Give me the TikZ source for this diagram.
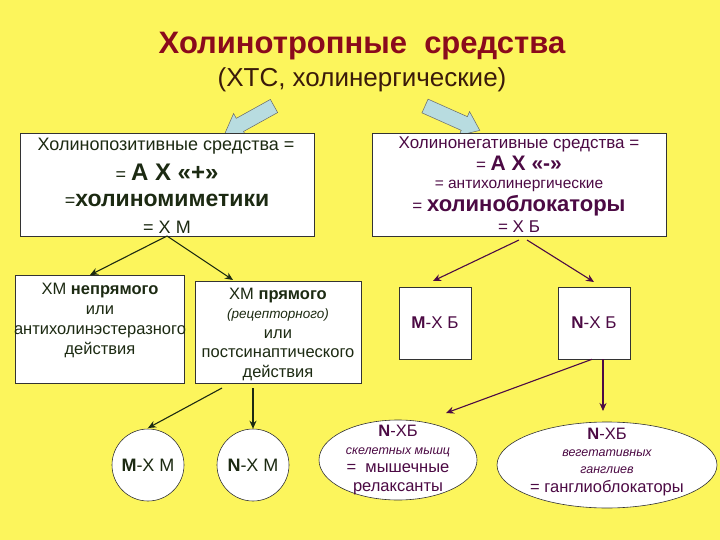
\documentclass[tikz,border=0pt]{standalone}
\usepackage{fontspec}
\setmainfont{Liberation Sans}
\usetikzlibrary{arrows.meta}
\definecolor{bg}{HTML}{FCF55C}
\definecolor{lt}{HTML}{1C2A12}
\definecolor{rt}{HTML}{4C0A44}
\definecolor{ttl}{HTML}{8A0A1C}
\definecolor{sub}{HTML}{3A1A0A}
\definecolor{ba}{HTML}{B8DCE0}
\tikzset{
 box/.style={draw=black!80,fill=white,line width=0.6pt,inner sep=0pt},
 txt/.style={align=center,font=\fontsize{18}{21}\selectfont},
 stxt/.style={align=center,font=\fontsize{16.5}{20}\selectfont},
 la/.style={-{Stealth[length=8pt,width=7pt]},draw=lt,line width=1.1pt},
 ra/.style={-{Stealth[length=8pt,width=7pt]},draw=rt,line width=1.1pt},
}
\newcommand{\blockarrow}[4]{%
 \begin{scope}[shift={(#1,#2)},rotate=#3]
 \filldraw[fill=ba,draw=black!60,line width=0.5pt,x=1pt,y=1pt] (0,-7.5)--(#4-17,-7.5)--(#4-17,-13)--(#4,0)--(#4-17,13)--(#4-17,7.5)--(0,7.5)--cycle;
 \end{scope}}
\begin{document}
\begin{tikzpicture}[x=1pt,y=-1pt]
\fill[bg] (0,0) rectangle (720,540);
\useasboundingbox (0,0) rectangle (720,540);
% title
\node (title) [text=ttl,font=\bfseries\fontsize{31}{34}\selectfont] at (362,46) {Холинотропные\ \ средства};
\node (subt) [text=sub,font=\fontsize{26}{30}\selectfont] at (362,80) {(ХТС, холинергические)};
\blockarrow{274}{106}{209}{56}
\blockarrow{425}{106}{-24}{60}
% big boxes
\draw[box] (20,133) rectangle (314,236);
\coordinate (lb) at (167,236);
\node[text=lt,txt] at (166,146) {Холинопозитивные средства =};
\node[text=lt,txt] at (167,172) {= \textbf{\fontsize{24}{26}\selectfont А Х «+»}};
\node[text=lt,txt] at (167,200) {=\textbf{\fontsize{23}{26}\selectfont холиномиметики}};
\node[text=lt,txt] at (167,227) {= Х М};
\draw[box] (372,133) rectangle (666,236);
\coordinate (rb) at (519,240);
\node[text=rt,txt,font=\fontsize{17}{20}\selectfont] at (519,144) {Холинонегативные средства =};
\node[text=rt,txt,font=\fontsize{17}{20}\selectfont] at (519,163) {= \textbf{\fontsize{21}{23}\selectfont А Х «-»}};
\node[text=rt,txt,font=\fontsize{15.5}{18}\selectfont] at (519,185.5) {= антихолинергические};
\node[text=rt,txt,font=\fontsize{17}{20}\selectfont] at (519,206) {= \textbf{\fontsize{22}{25}\selectfont холиноблокаторы}};
\node[text=rt,txt,font=\fontsize{17}{20}\selectfont] at (519,227) {= Х Б};
% second row
\draw[box] (15,275) rectangle (184,383);
\node (xmn) [text=lt,stxt,font=\fontsize{16.5}{20}\selectfont] at (100,320) {ХМ \textbf{непрямого}\\или\\антихолинэстеразного\\действия};
\coordinate (xmnt) at (90,275);
\draw[box] (195,281) rectangle (361,383);
\node (xmp) [text=lt,stxt,font=\fontsize{16.5}{19.5}\selectfont] at (278,334) {ХМ \textbf{прямого}\\{\itshape\fontsize{13.5}{16}\selectfont(рецепторного)}\\или\\постсинаптического\\действия};
\coordinate (xmpt) at (233,280);
\node (mxb) [box,minimum width=72pt,minimum height=72pt,text=rt,font=\fontsize{17}{20}\selectfont] at (435,323) {\textbf{М}-Х Б};
\node (nxb) [box,minimum width=72pt,minimum height=72pt,text=rt,font=\fontsize{17}{20}\selectfont] at (594,323) {\textbf{N}-Х Б};
% third row
\node (mxm) [box,circle,minimum size=72pt,text=lt,font=\fontsize{18}{21}\selectfont] at (148,465) {\textbf{М}-Х М};
\node (nxm) [box,circle,minimum size=72pt,text=lt,font=\fontsize{18}{21}\selectfont] at (253,465) {\textbf{N}-Х М};
\draw[box] (398,460) ellipse [x radius=79pt,y radius=40pt];
\node (e1) [text=rt,stxt,font=\fontsize{16.5}{19}\selectfont] at (398,460) {\textbf{N}-ХБ\\[-1pt]{\itshape\fontsize{12.5}{15}\selectfont скелетных мышц}\\[-1pt]= \ мышечные\\релаксанты};
\draw[box] (607,465) ellipse [x radius=110pt,y radius=43pt];
\node (e2) [text=rt,stxt,font=\fontsize{16.5}{19}\selectfont] at (607,462) {\textbf{N}-ХБ\\[-2pt]{\itshape\fontsize{12.5}{15}\selectfont вегетативных}\\[-2pt]{\itshape\fontsize{12.5}{15}\selectfont ганглиев}\\= ганглиоблокаторы};
% connectors
\coordinate (a1) at (222,388);
\draw[la] (lb) -- (xmnt);
\draw[la] (lb) -- (xmpt);
\draw[la] (a1) -- (148,428);
\draw[la] (253,388) -- (nxm.north);
\draw[ra] (rb) -- (433,281);
\draw[ra] ([xshift=8pt]rb) -- (594,282);
\draw[ra] ([xshift=-2pt]nxb.south) -- (446,413);
\draw[ra] ([xshift=9pt]nxb.south) -- (603,411);
\end{tikzpicture}
\end{document}
